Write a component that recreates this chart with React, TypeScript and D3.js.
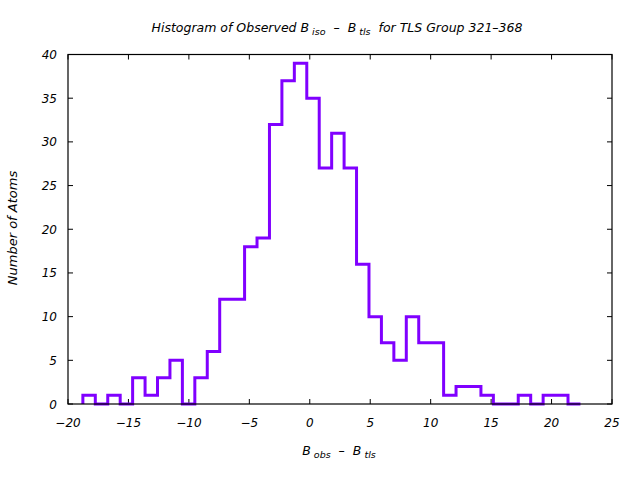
import React from "react";
import * as d3 from "d3";

const binStart = -18.77;
const binWidth = 1.029;
const counts = [
  1, 0, 1, 0, 3, 1, 3, 5, 0, 3, 6, 12, 12, 18, 19, 32, 37, 39, 35, 27, 31, 27, 16, 10, 7, 5, 10, 7, 7, 1, 2, 2, 1, 0,
  0, 1, 0, 1, 1, 0,
];
const xTicks = [-20, -15, -10, -5, 0, 5, 10, 15, 20, 25];
const yTicks = [0, 5, 10, 15, 20, 25, 30, 35, 40];

const W = 640;
const H = 480;
const L = 68;
const R = 612;
const T = 54.5;
const B = 404;
const font = "'DejaVu Sans', sans-serif";

export default function App() {
  const x = d3.scaleLinear().domain([-20, 25]).range([L, R]);
  const y = d3.scaleLinear().domain([0, 40]).range([B, T]);

  const pts: [number, number][] = [[binStart, 0]];
  counts.forEach((c, i) => {
    pts.push([binStart + i * binWidth, c]);
    pts.push([binStart + (i + 1) * binWidth, c]);
  });
  const line = d3
    .line<[number, number]>()
    .x((d) => x(d[0]))
    .y((d) => y(d[1]));

  const tl = 5;
  return (
    <svg width={W} height={H} style={{ position: "absolute", left: 0, top: 0, background: "#fff" }}>
      <rect x={0} y={0} width={W} height={H} fill="#fff" />
      <g stroke="#000" strokeWidth={1}>
        {xTicks.map((t) => (
          <g key={"x" + t}>
            <line x1={x(t)} x2={x(t)} y1={B} y2={B - tl} />
            <line x1={x(t)} x2={x(t)} y1={T} y2={T + tl} />
          </g>
        ))}
        {yTicks.map((t) => (
          <g key={"y" + t}>
            <line x1={L} x2={L + tl} y1={y(t)} y2={y(t)} />
            <line x1={R} x2={R - tl} y1={y(t)} y2={y(t)} />
          </g>
        ))}
      </g>
      <path d={line(pts) || ""} fill="none" stroke="#8000ff" strokeWidth={3} strokeLinejoin="miter" strokeLinecap="butt" />
      <rect x={L} y={T} width={R - L} height={B - T} fill="none" stroke="#000" strokeWidth={1.2} />
      <g fontFamily={font} fontStyle="italic" fontSize={12} fill="#000">
        {xTicks.map((t) => (
          <text key={"xl" + t} x={x(t)} y={B + 23} textAnchor="middle">
            {t === 0 ? "0" : t < 0 ? "\u2212" + Math.abs(t) : String(t)}
          </text>
        ))}
        {yTicks.map((t) => (
          <text key={"yl" + t} x={L - 11} y={y(t) + 4.5} textAnchor="end">
            {t}
          </text>
        ))}
        <text x={337} y={32} textAnchor="middle" fontSize={12.5} xmlSpace="preserve">
          Histogram of Observed B
          <tspan fontSize={9.5} dy={3}> iso</tspan>
          <tspan dy={-3}>{"  \u2013  "}B</tspan>
          <tspan fontSize={9.5} dy={3}> tls</tspan>
          <tspan dy={-3}>{"  for TLS Group 321\u2013368"}</tspan>
        </text>
        <text x={339} y={455} textAnchor="middle" fontSize={12.5} xmlSpace="preserve">
          B<tspan fontSize={9.5} dy={3}> obs</tspan>
          <tspan dy={-3}>{"  \u2013  "}B</tspan>
          <tspan fontSize={9.5} dy={3}> tls</tspan>
        </text>
        <text transform="translate(17,228) rotate(-90)" textAnchor="middle" fontSize={13}>
          Number of Atoms
        </text>
      </g>
    </svg>
  );
}
